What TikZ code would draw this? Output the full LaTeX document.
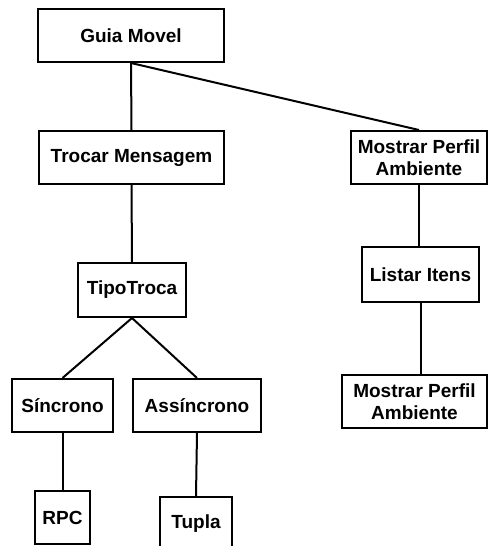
\documentclass[tikz,border=0pt]{standalone}
\usepackage{fontspec}
\setmainfont{Liberation Sans}
\begin{document}
\begin{tikzpicture}[x=1pt,y=-1pt,
  box/.style={draw=black, line width=2pt, fill=white, align=center,
    inner sep=0pt, font=\bfseries\fontsize{19}{22.5}\selectfont},
  link/.style={draw=black, line width=2pt}]
\useasboundingbox (0,0) rectangle (488,546);
% nodes: centre, width, height
\node[box, minimum width=186pt, minimum height=53pt] (guia)    at (131,35.5)  {Guia Movel};
\node[box, minimum width=185pt, minimum height=53pt] (trocar)  at (131.5,157.5) {Trocar Mensagem};
\node[box, minimum width=136pt, minimum height=53pt] (perfilA) at (419,157.5) {Mostrar Perfil\\Ambiente};
\node[box, minimum width=108pt, minimum height=54pt] (tipo)    at (132,290)   {TipoTroca};
\node[box, minimum width=117pt, minimum height=55pt] (listar)  at (420.5,274.5) {Listar Itens};
\node[box, minimum width=145pt, minimum height=53pt] (perfilB) at (414.5,401.5) {Mostrar Perfil\\Ambiente};
\node[box, minimum width=101pt, minimum height=53pt] (sinc)    at (62.5,405.5) {Síncrono};
\node[box, minimum width=128pt, minimum height=53pt] (assinc)  at (197,405.5)  {Assíncrono};
\node[box, minimum width=55pt,  minimum height=53pt] (rpc)     at (62.5,517.5) {RPC};
\node[box, minimum width=72pt,  minimum height=53pt] (tupla)   at (196,523.5)  {Tupla};
% connectors
\draw[link] (guia.south) -- (trocar.north);
\draw[link] (guia.south) -- (perfilA.north);
\draw[link] (trocar.south) -- (tipo.north);
\draw[link] (tipo.south) -- (sinc.north);
\draw[link] (tipo.south) -- (assinc.north);
\draw[link] (sinc.south) -- (rpc.north);
\draw[link] (assinc.south) -- (tupla.north);
\draw[link] (perfilA.south) -- (perfilA.south |- listar.north);
\draw[link] (listar.south) -- (listar.south |- perfilB.north);
\end{tikzpicture}
\end{document}
